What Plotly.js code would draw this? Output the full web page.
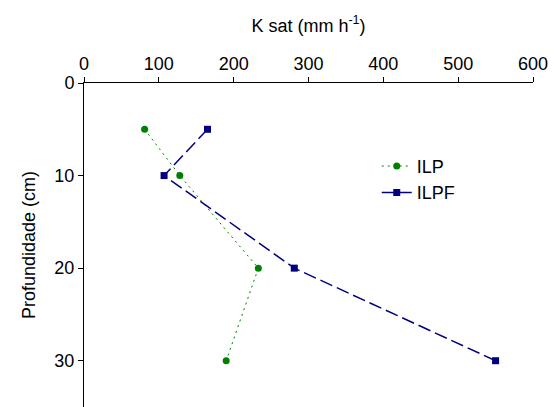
<!DOCTYPE html>
<html><head><meta charset="utf-8">
<script src="https://cdn.plot.ly/plotly-3.0.1.min.js"></script>
<style>html,body{margin:0;padding:0;background:#fff}</style>
</head><body>
<div id="chart" style="width:554px;height:407px"></div>
<script>
const depthILP = [5, 10, 20, 30];
const ksatILP = [81, 128, 233, 190];
const depthILPF = [5, 10, 20, 30];
const ksatILPF = [165, 107, 281, 550];
const xTicks = [0, 100, 200, 300, 400, 500, 600];
const yTicks = [0, 10, 20, 30];

const traces = [
  {x: ksatILP, y: depthILP, name: 'ILP', type: 'scatter', mode: 'lines+markers',
   line: {color: '#008000', width: 1, dash: '2px,4px'},
   marker: {color: '#008000', symbol: 'circle', size: 7}},
  {x: ksatILPF, y: depthILPF, name: 'ILPF', type: 'scatter', mode: 'lines+markers',
   line: {color: '#000080', width: 1.5, dash: '13px,5px'},
   marker: {color: '#000080', symbol: 'square', size: 7}}
];
const layout = {
  width: 554, height: 407,
  margin: {l: 84, r: 21, t: 83, b: 0, pad: 0},
  paper_bgcolor: '#fff', plot_bgcolor: '#fff',
  font: {family: 'Liberation Sans, Arial, sans-serif', size: 18, color: '#000'},
  showlegend: true,
  legend: {x: 0.652, y: 0.80, xanchor: 'left', yanchor: 'top', font: {size: 18}, bgcolor: 'rgba(0,0,0,0)'},
  xaxis: {side: 'top', range: [0, 600], tickvals: xTicks, ticktext: xTicks.map(String),
    showgrid: false, zeroline: false, showline: true, linecolor: '#000', linewidth: 1,
    ticks: 'outside', ticklen: 5, tickcolor: '#000', tickfont: {size: 18},
    title: {text: 'K sat (mm h<sup>-1</sup>)', font: {size: 18}, standoff: 16}},
  yaxis: {range: [35, 0], tickvals: yTicks, ticktext: yTicks.map(String),
    showgrid: false, zeroline: false, showline: true, linecolor: '#000', linewidth: 1,
    ticks: 'outside', ticklen: 5, tickcolor: '#000', tickfont: {size: 18},
    title: {text: 'Profundidade (cm)', font: {size: 18}, standoff: 14}}
};
Plotly.newPlot('chart', traces, layout, {displayModeBar: false, staticPlot: true});
</script>
</body></html>
